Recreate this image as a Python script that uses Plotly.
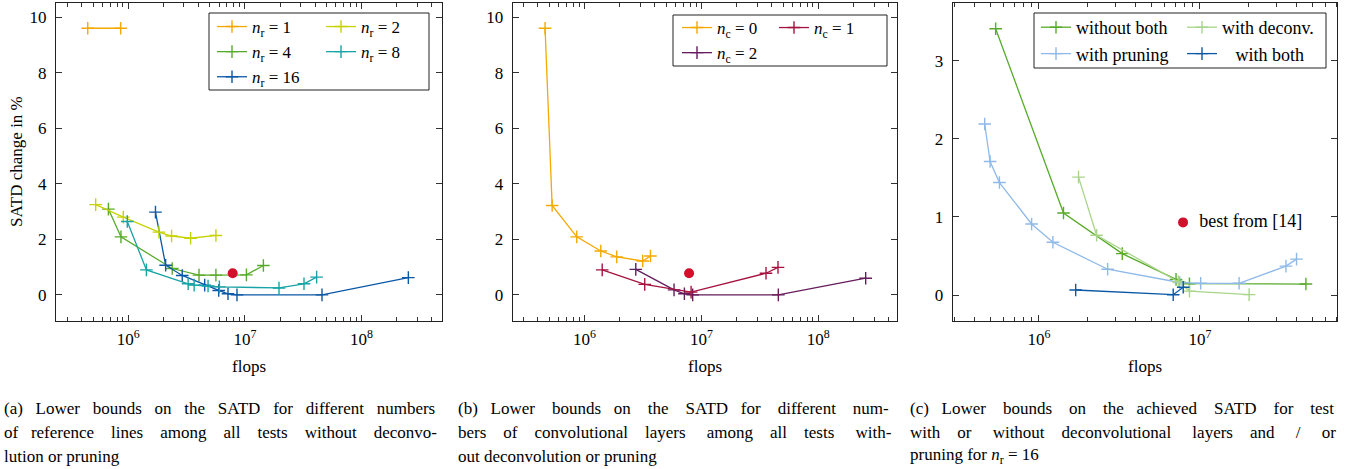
import numpy as np
import plotly.graph_objects as go

W, H = 1347, 469

# ---------------- data ----------------
# (a) number of reference lines
a_nr1_x = [4.49e5, 8.6e5]
a_nr1_y = [9.6, 9.6]
a_nr2_x = [5.25e5, 9.06e5, 1.83e6, 2.35e6, 3.42e6, 5.64e6]
a_nr2_y = [3.25, 2.80, 2.26, 2.12, 2.04, 2.14]
a_nr4_x = [6.75e5, 8.65e5, 2.38e6, 4.04e6, 5.64e6, 1.03e7, 1.44e7]
a_nr4_y = [3.09, 2.09, 0.95, 0.71, 0.71, 0.72, 1.06]
a_nr8_x = [9.8e5, 1.43e6, 3.26e6, 3.67e6, 4.83e6, 6.04e6, 1.96e7, 3.21e7, 4.12e7]
a_nr8_y = [2.64, 0.90, 0.40, 0.35, 0.32, 0.29, 0.25, 0.40, 0.64]
a_nr16_x = [1.71e6, 2.09e6, 2.9e6, 4.52e6, 5.96e6, 7.16e6, 8.55e6, 4.58e7, 2.52e8]
a_nr16_y = [2.98, 1.07, 0.70, 0.35, 0.16, 0.04, 0.0, 0.0, 0.62]

# (b) number of convolutional layers
b_nc0_x = [4.61e5, 5.3e5, 8.6e5, 1.38e6, 1.89e6, 3.15e6, 3.67e6]
b_nc0_y = [9.60, 3.22, 2.09, 1.58, 1.37, 1.22, 1.40]
b_nc1_x = [1.42e6, 3.28e6, 8.17e6, 3.57e7, 4.52e7]
b_nc1_y = [0.90, 0.38, 0.10, 0.78, 0.99]
b_nc2_x = [2.75e6, 5.84e6, 7.16e6, 8.43e6, 4.55e7, 2.54e8]
b_nc2_y = [0.92, 0.18, 0.04, 0.0, 0.0, 0.60]

# best result from [14]
best_x = [7.85e6]
best_y_ab = [0.78]
best_y_c = [0.93]

# (c) deconvolution / pruning for n_r = 16
c_none_x = [5.38e5, 1.42e6, 3.29e6, 7.1e6, 8.6e6, 4.55e7]
c_none_y = [3.41, 1.05, 0.53, 0.20, 0.145, 0.14]
c_deconv_x = [1.76e6, 2.28e6, 7.33e6, 8.6e6, 2.02e7]
c_deconv_y = [1.51, 0.765, 0.17, 0.05, 0.005]
c_prun_x = [4.6e5, 4.97e5, 5.68e5, 9.0e5, 1.22e6, 2.67e6, 7.48e6, 1.01e7, 1.75e7, 3.42e7, 3.98e7]
c_prun_y = [2.19, 1.71, 1.44, 0.91, 0.675, 0.33, 0.16, 0.15, 0.15, 0.37, 0.46]
c_both_x = [1.69e6, 6.82e6, 7.87e6]
c_both_y = [0.064, 0.004, 0.10]

x_major = [1e6, 1e7, 1e8]
x_major_text = ["10<sup>6</sup>", "10<sup>7</sup>", "10<sup>8</sup>"]

caption_lines = [
    ["(a) Lower bounds on the SATD for different numbers",
     "of reference lines among all tests without deconvo-",
     "lution or pruning"],
    ["(b) Lower bounds on the SATD for different num-",
     "bers of convolutional layers among all tests with-",
     "out deconvolution or pruning"],
    ["(c) Lower bounds on the achieved SATD for test",
     "with or without deconvolutional layers and / or",
     "pruning for <i>n</i><sub>r</sub> = 16"],
]

# ---------------- colours ----------------
C_ORANGE = "#F5A800"
C_YGREEN = "#C6D300"
C_GREEN = "#58AB2A"
C_TEAL = "#18A3A6"
C_BLUE = "#0A58A6"
C_CRIMSON = "#A5123F"
C_PURPLE = "#651B5C"
C_RED = "#D2102B"
C_LGREEN = "#A9D58B"
C_LBLUE = "#8EB9E8"

FONT = "'Liberation Serif', 'Times New Roman', Times, serif"

# Times-compatible advance widths (1/1000 em), used to justify caption lines
_TW = {' ': 250, '(': 333, ')': 333, '-': 333, '.': 250, '/': 278,
       'a': 444, 'b': 500, 'c': 444, 'd': 500, 'e': 444, 'f': 333, 'g': 500, 'h': 500,
       'i': 278, 'j': 278, 'k': 500, 'l': 278, 'm': 778, 'n': 500, 'o': 500, 'p': 500,
       'q': 500, 'r': 333, 's': 389, 't': 278, 'u': 500, 'v': 500, 'w': 722, 'x': 500,
       'y': 500, 'z': 444, 'A': 722, 'D': 722, 'L': 611, 'S': 556, 'T': 611}


def justify(line, target, size):
    w = sum(_TW.get(ch, 500) for ch in line) * size / 1000.0
    words = line.split(" ")
    gaps = len(words) - 1
    n_extra = max(0, int(np.floor((target - w) / (0.25 * size))))
    out = words[0]
    for i, wd in enumerate(words[1:]):
        k = (n_extra * (i + 1)) // gaps - (n_extra * i) // gaps
        out += " " + "\u00a0" * k + wd
    return out


# ---------------- layout geometry (px) ----------------
panels = {
    1: dict(x0=56, x1=442, y0=3, y1=321, xr=[5.38, 8.69], yr=[-0.94, 10.51], yt=[0, 2, 4, 6, 8, 10]),
    2: dict(x0=512.7, x1=896.7, y0=3, y1=321, xr=[5.387, 8.67], yr=[-0.94, 10.51], yt=[0, 2, 4, 6, 8, 10]),
    3: dict(x0=952.7, x1=1337.3, y0=3, y1=321, xr=[5.464, 7.853], yr=[-0.333, 3.74], yt=[0, 1, 2, 3]),
}

fig = go.Figure()


def add(x, y, name, color, k, legend, showlegend=True):
    fig.add_trace(go.Scatter(
        x=x, y=y, name=name, mode="lines+markers",
        line=dict(color=color, width=1.3),
        marker=dict(symbol="cross-thin", size=9, line=dict(color=color, width=1.4)),
        xaxis="x" if k == 1 else f"x{k}", yaxis="y" if k == 1 else f"y{k}",
        legend=legend, showlegend=showlegend,
    ))


nr = lambda s: f"<i>n</i><sub>r</sub> = {s}"
nc = lambda s: f"<i>n</i><sub>c</sub> = {s}"

add(a_nr1_x, a_nr1_y, nr(1), C_ORANGE, 1, "legend")
add(a_nr4_x, a_nr4_y, nr(4), C_GREEN, 1, "legend")
add(a_nr16_x, a_nr16_y, nr(16), C_BLUE, 1, "legend")
add(a_nr2_x, a_nr2_y, nr(2), C_YGREEN, 1, "legend2")
add(a_nr8_x, a_nr8_y, nr(8), C_TEAL, 1, "legend2")

add(b_nc0_x, b_nc0_y, nc(0), C_ORANGE, 2, "legend3")
add(b_nc2_x, b_nc2_y, nc(2), C_PURPLE, 2, "legend3")
add(b_nc1_x, b_nc1_y, nc(1), C_CRIMSON, 2, "legend4")

add(c_none_x, c_none_y, "without both", C_GREEN, 3, "legend5")
add(c_prun_x, c_prun_y, "with pruning", C_LBLUE, 3, "legend5")
add(c_deconv_x, c_deconv_y, "with deconv.", C_LGREEN, 3, "legend6")
add(c_both_x, c_both_y, "   with both", C_BLUE, 3, "legend6")

for k, yv in [(1, best_y_ab), (2, best_y_ab)]:
    fig.add_trace(go.Scatter(
        x=best_x, y=yv, mode="markers", marker=dict(color=C_RED, size=10),
        xaxis="x" if k == 1 else f"x{k}", yaxis="y" if k == 1 else f"y{k}", showlegend=False))
fig.add_trace(go.Scatter(
    x=best_x, y=best_y_c, mode="markers+text", text=["  best from [14]"],
    textposition="middle right", textfont=dict(family=FONT, size=18, color="black"),
    marker=dict(color=C_RED, size=10), xaxis="x3", yaxis="y3", showlegend=False))

layout = dict(
    width=W, height=H, margin=dict(l=0, r=0, t=0, b=0),
    paper_bgcolor="white", plot_bgcolor="white", template="none",
    font=dict(family=FONT, size=17, color="black"),
)

for k, p in panels.items():
    xs = "xaxis" if k == 1 else f"xaxis{k}"
    ys = "yaxis" if k == 1 else f"yaxis{k}"
    xa = "x" if k == 1 else f"x{k}"
    ya = "y" if k == 1 else f"y{k}"
    lo, hi = int(np.floor(p["xr"][0])), int(np.ceil(p["xr"][1]))
    minor_vals = [m * 10 ** d for d in range(lo, hi + 1) for m in range(2, 10)
                  if p["xr"][0] <= np.log10(m * 10 ** d) <= p["xr"][1]]
    layout[xs] = dict(
        type="log", range=p["xr"], domain=[p["x0"] / W, p["x1"] / W], anchor=ya,
        showgrid=False, zeroline=False, showline=True, linecolor="#222", linewidth=1,
        mirror="allticks", ticks="inside", ticklen=6, tickcolor="#333", tickwidth=0.8,
        tickmode="array", tickvals=x_major, ticktext=x_major_text,
        tickfont=dict(family=FONT, size=17, color="black"), ticklabelstandoff=3,
        minor=dict(tickmode="array", tickvals=minor_vals, ticks="inside", ticklen=4,
                   tickcolor="#333", tickwidth=0.8, showgrid=False),
        automargin=False,
    )
    layout[ys] = dict(
        range=p["yr"], domain=[1 - p["y1"] / H, 1 - p["y0"] / H], anchor=xa,
        showgrid=False, zeroline=False, showline=True, linecolor="#222", linewidth=1,
        mirror="allticks", ticks="inside", ticklen=6, tickcolor="#333", tickwidth=0.8,
        tickmode="array", tickvals=p["yt"], ticktext=[str(v) for v in p["yt"]],
        tickfont=dict(family=FONT, size=17, color="black"), ticklabelstandoff=5,
        automargin=False,
    )

leg_common = dict(bgcolor="rgba(0,0,0,0)", borderwidth=0, orientation="v",
                  xanchor="left", yanchor="top",
                  tracegroupgap=0, itemwidth=30)
legs = {
    "legend": (212, 9, 17), "legend2": (321, 9, 17),
    "legend3": (677, 10, 17), "legend4": (774, 10, 17),
    "legend5": (1036, 9, 18), "legend6": (1182, 9, 18),
}
for name, (px, py, fs) in legs.items():
    d = dict(leg_common)
    d.update(x=px / W, y=1 - py / H, font=dict(family=FONT, size=fs, color="black"))
    layout[name] = d

shapes = []
for (bx0, by0, bx1, by1) in [(209, 13, 429, 90), (673, 15, 887, 66), (1034, 13, 1326, 68)]:
    shapes.append(dict(type="rect", xref="paper", yref="paper",
                       x0=bx0 / W, x1=bx1 / W, y0=1 - by1 / H, y1=1 - by0 / H,
                       line=dict(color="#222", width=1), fillcolor="rgba(0,0,0,0)", layer="above"))
layout["shapes"] = shapes

ann = []
ann.append(dict(text="SATD change in %", x=16 / W, y=1 - 162 / H, xref="paper", yref="paper",
                textangle=-90, showarrow=False, font=dict(family=FONT, size=17, color="black"),
                xanchor="center", yanchor="middle"))
for k, p in panels.items():
    ann.append(dict(text="flops", x=(p["x0"] + p["x1"]) / 2 / W, y=1 - 366 / H,
                    xref="paper", yref="paper", showarrow=False,
                    font=dict(family=FONT, size=17, color="black"), xanchor="center", yanchor="middle"))

CAP_SIZE = 17
for cx, target, lines in zip([2, 456, 908], [436, 436, 428], caption_lines):
    for i, ln in enumerate(lines):
        txt = justify(ln, target, CAP_SIZE) if i < 2 else ln
        ann.append(dict(text=txt, x=cx / W, y=1 - (408 + 24 * i) / H, xref="paper", yref="paper",
                        showarrow=False, align="left", xanchor="left", yanchor="middle",
                        font=dict(family=FONT, size=CAP_SIZE, color="black")))
layout["annotations"] = ann

fig.update_layout(**layout)
fig.write_html("out.html", config={"displayModeBar": False},
               post_script="document.body.style.margin='0';document.body.style.overflow='hidden';")
